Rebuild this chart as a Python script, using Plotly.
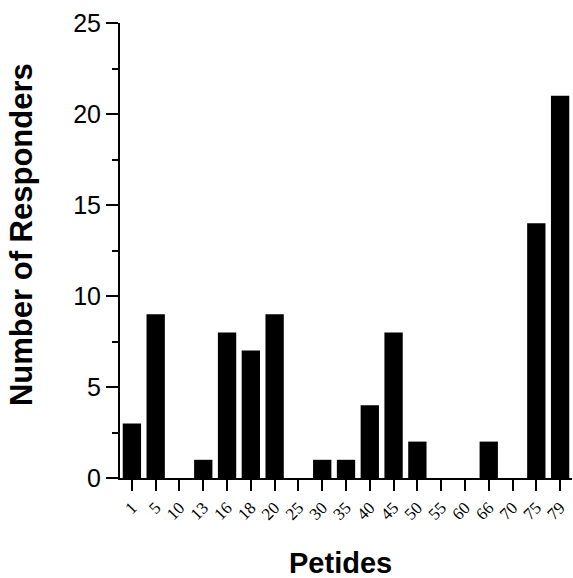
import plotly.graph_objects as go

peptides = ["1", "5", "10", "13", "16", "18", "20", "25", "30", "35", "40", "45", "50", "55", "60", "66", "70", "75", "79"]
responders = [3, 9, 0, 1, 8, 7, 9, 0, 1, 1, 4, 8, 2, 0, 0, 2, 0, 14, 21]

fig = go.Figure(go.Bar(x=peptides, y=responders, marker=dict(color="black", line=dict(width=0)), width=0.77))

fig.update_layout(
    width=573, height=578,
    margin=dict(l=120, r=1, t=23, b=100),
    plot_bgcolor="white", paper_bgcolor="white",
    showlegend=False,
    font=dict(family="Liberation Sans, Arial", color="black"),
)
fig.update_xaxes(
    type="category", range=[-0.5, 18.5],
    showline=True, linecolor="black", linewidth=2,
    ticks="outside", ticklen=11, tickwidth=2, tickcolor="black",
    tickangle=-45,
    tickfont=dict(family="Liberation Serif, Times New Roman", size=17),
    showgrid=False, zeroline=False,
)
fig.update_yaxes(
    range=[0, 25], dtick=5,
    showline=True, linecolor="black", linewidth=2,
    ticks="outside", ticklen=12, tickwidth=2, tickcolor="black",
    tickfont=dict(size=25),
    minor=dict(dtick=2.5, ticks="outside", ticklen=6, tickwidth=2, tickcolor="black"),
    showgrid=False, zeroline=False,
)
fig.add_annotation(text="<b>Number of Responders</b>", xref="paper", yref="paper",
                   x=-0.219, y=0.534, textangle=-90, showarrow=False,
                   font=dict(size=31), xanchor="center", yanchor="middle")
fig.add_annotation(text="<b>Petides</b>", xref="paper", yref="paper",
                   x=0.487, y=-0.186, showarrow=False,
                   font=dict(size=29), xanchor="center", yanchor="middle")

fig.write_html("out.html")
